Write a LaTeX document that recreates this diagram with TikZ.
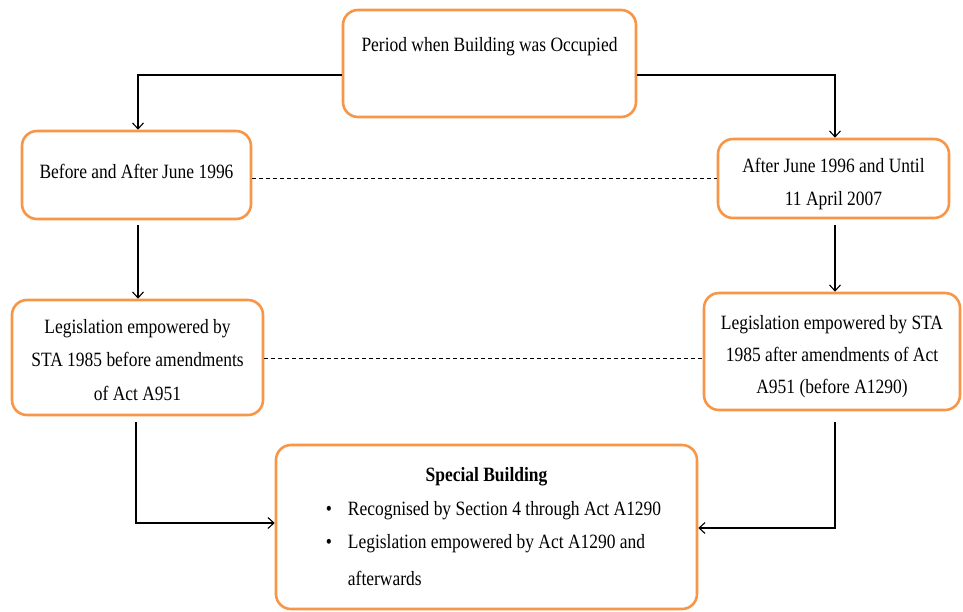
\documentclass[tikz,border=0pt]{standalone}
\usepackage{fontspec}
\setmainfont{Liberation Serif}[FakeStretch=0.86]
\usetikzlibrary{arrows.meta}
\definecolor{boxorange}{HTML}{F79646}
\newcommand{\shifttxt}[2]{\raisebox{#1}[\height][\depth]{\begin{tabular}{@{}c@{}}#2\end{tabular}}}
\begin{document}
\begin{tikzpicture}[x=1pt,y=-1pt,
  box/.style={draw=boxorange,line width=2.6pt,rounded corners=15pt,fill=white,
    align=center,inner sep=0pt,font=\fontsize{20.3}{33.5}\selectfont},
  conn/.style={line width=1.1pt,-{Straight Barb[length=6pt,width=11pt]}},
  dashlink/.style={line width=1pt,dash pattern=on 4pt off 3pt}]
\useasboundingbox (0,0) rectangle (963,611);
\node[box,minimum width=293pt,minimum height=107pt] (top) at (489.5,63.5)
  {Period when Building was Occupied\\[5pt]\mbox{}};
\node[box,minimum width=229pt,minimum height=88pt] (l1) at (136.5,175)
  {\shifttxt{3pt}{Before and After June 1996}};
\node[box,minimum width=231pt,minimum height=79pt] (r1) at (833.5,178.5)
  {\shifttxt{-4pt}{After June 1996 and Until\\11 April 2007}};
\node[box,minimum width=251pt,minimum height=115pt] (l2) at (137.5,357.5)
  {\shifttxt{-2.5pt}{Legislation empowered by\\STA 1985 before amendments\\of Act A951}};
\node[box,minimum width=256pt,minimum height=117pt,font=\fontsize{20.3}{32}\selectfont] (r2) at (832,351.5)
  {\shifttxt{-4pt}{Legislation empowered by STA\\1985 after amendments of Act\\A951 (before A1290)}};
\node[box,minimum width=421pt,minimum height=164pt] (bot) at (486.5,527)
  {\hspace*{14pt}\begin{tabular}{@{}l@{\hspace{16pt}}l@{}}
   \multicolumn{2}{c}{\hspace*{-14pt}\textbf{Special Building}}\\
   \textbullet & Recognised by Section 4 through Act A1290\\
   \textbullet & Legislation empowered by Act A1290 and\\[3pt]
   & afterwards
   \end{tabular}};
\coordinate (tl) at (138,75);
\coordinate (tr) at (835,75);
\draw[conn] (top.west |- tl) -| (l1.north -| tl);
\draw[conn] (top.east |- tr) -| (r1.north -| tr);
\draw[dashlink] (l1.east |- 0,178) -- (r1.west |- 0,178);
\draw[dashlink] (l2.east |- 0,358) -- (r2.west |- 0,358);
\draw[conn] (138,225) coordinate (a1) -- (a1 |- l2.north);
\draw[conn] (835,225) coordinate (a2) -- (a2 |- r2.north);
\draw[conn] (136,422) coordinate (b1) |- (bot.west |- 0,523);
\draw[conn] (835,422) coordinate (b2) |- (bot.east |- 0,528);
\end{tikzpicture}
\end{document}
